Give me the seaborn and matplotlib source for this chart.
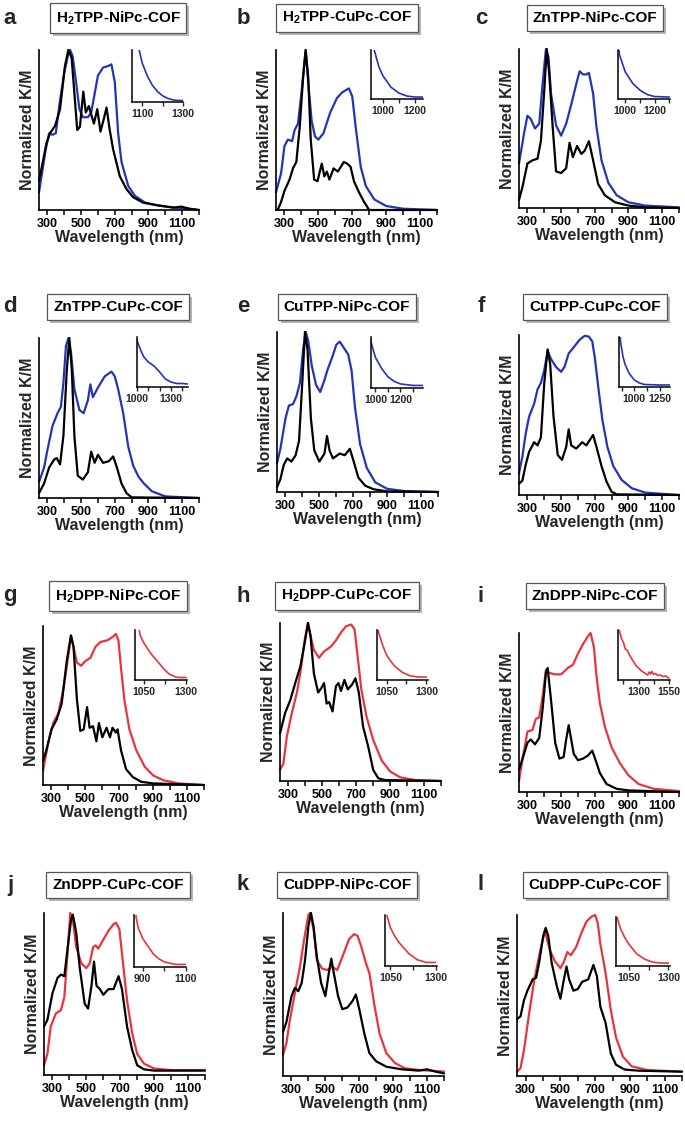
import matplotlib
matplotlib.use("Agg")
import matplotlib.pyplot as plt
from matplotlib.patches import Rectangle
import seaborn as sns

# ── Spectra: (wavelength nm, normalized K/M) ───────────────────────────────
A_BLACK = [(250, .18), (295, .42), (315, .48), (345, .525), (375, .63), (404, .9), (424, 1.0),
           (444, .95), (463, .69), (477, .5), (493, .52), (513, .74), (528, .61), (546, .65),
           (562, .59), (576, .54), (596, .63), (615, .49), (635, .57), (651, .64), (670, .5),
           (690, .38), (730, .21), (770, .13), (809, .08), (868, .046), (947, .031),
           (1046, .015), (1095, .021), (1145, .008), (1200, 0.0)]
A_COLOR = [(250, .11), (290, .38), (310, .48), (330, .47), (350, .48), (370, .65), (400, .86),
           (425, .98), (435, 1.0), (450, .96), (470, .8), (490, .63), (510, .58), (540, .58),
           (560, .61), (600, .84), (630, .89), (660, .9), (680, .91), (700, .8), (720, .48),
           (740, .3), (780, .15), (820, .088), (880, .046), (950, .029), (1050, .015), (1200, 0.0)]
A_INSET = [(1070, 1.3), (1085, 1.0), (1100, .75), (1125, .5), (1150, .32), (1175, .2),
           (1200, .12), (1225, .07), (1250, .04), (1275, .03), (1300, .03)]

B_BLACK = [(260, 0.0), (280, .05), (300, .12), (330, .19), (350, .26), (370, .3), (390, .52),
           (410, .83), (425, 1.0), (440, .83), (455, .44), (475, .19), (495, .18), (520, .29),
           (535, .21), (550, .24), (565, .19), (590, .26), (615, .24), (650, .3), (670, .29),
           (690, .27), (710, .18), (740, .11), (770, .05), (800, 0.0), (1200, 0.0)]
B_COLOR = [(250, .11), (280, .23), (300, .4), (320, .44), (345, .43), (360, .5), (380, .54),
           (400, .73), (425, 1.0), (440, .8), (460, .56), (480, .46), (500, .44), (530, .48),
           (570, .61), (610, .7), (640, .735), (680, .76), (700, .71), (720, .52), (750, .27),
           (780, .15), (830, .066), (900, .025), (1000, .008), (1200, 0.0)]
B_INSET = [(935, 1.2), (945, 1.0), (975, .65), (1000, .47), (1050, .24), (1100, .12),
           (1150, .06), (1200, .04), (1250, .04)]

C_BLACK = [(250, .05), (270, .13), (300, .28), (330, .3), (360, .31), (380, .42), (400, .74),
           (415, 1.0), (430, .84), (450, .51), (470, .23), (500, .22), (530, .25), (550, .41),
           (570, .32), (595, .39), (620, .34), (640, .36), (665, .42), (690, .3), (720, .15),
           (760, .08), (820, .036), (900, .015), (1000, .004), (1200, 0.0)]
C_COLOR = [(250, .28), (280, .47), (300, .58), (320, .56), (345, .5), (370, .53), (390, .78),
           (410, 1.0), (425, .95), (440, .72), (470, .52), (500, .455), (530, .53), (560, .65),
           (590, .78), (610, .86), (630, .84), (650, .84), (665, .85), (690, .72), (710, .51),
           (740, .3), (780, .16), (830, .08), (900, .036), (1000, .015), (1200, .004)]
C_INSET = [(950, 1.2), (960, .9), (1000, .55), (1050, .32), (1100, .18), (1150, .09),
           (1200, .05), (1300, .04)]

D_BLACK = [(250, .03), (280, .09), (310, .19), (340, .24), (355, .25), (375, .21), (395, .39),
           (415, .8), (430, 1.0), (445, .8), (460, .39), (480, .14), (510, .115), (540, .16),
           (560, .29), (580, .22), (600, .27), (630, .22), (665, .23), (690, .26), (710, .2),
           (740, .09), (770, .03), (800, .004), (1200, 0.0)]
D_COLOR = [(250, .1), (280, .19), (300, .3), (330, .45), (360, .53), (380, .57), (395, .72),
           (410, .95), (425, 1.0), (440, .91), (460, .68), (490, .55), (515, .53), (540, .61),
           (555, .71), (570, .63), (600, .69), (640, .76), (680, .79), (700, .76), (720, .68),
           (750, .53), (780, .32), (810, .2), (840, .135), (870, .094), (920, .042),
           (1000, .01), (1200, 0.0)]
D_INSET = [(1000, .93), (1030, .75), (1060, .6), (1100, .5), (1150, .42), (1200, .3),
           (1250, .16), (1300, .1), (1350, .07), (1400, .07), (1450, .06)]

E_BLACK = [(250, .03), (270, .08), (290, .17), (310, .21), (335, .19), (360, .23), (380, .32),
           (400, .7), (415, 1.0), (430, .89), (450, .46), (470, .26), (500, .19), (530, .24),
           (545, .35), (560, .26), (580, .21), (620, .24), (650, .23), (680, .27), (700, .2),
           (730, .09), (770, .04), (820, .017), (900, .004), (1200, 0.0)]
E_COLOR = [(250, .18), (270, .27), (300, .46), (320, .54), (345, .55), (365, .6), (385, .68),
           (405, .9), (420, 1.0), (435, .94), (455, .79), (480, .67), (505, .625), (530, .7),
           (550, .77), (575, .84), (600, .92), (620, .94), (645, .9), (670, .86), (690, .76),
           (710, .53), (740, .3), (780, .15), (830, .06), (900, .02), (1000, .006), (1200, 0.0)]
E_INSET = [(955, 1.2), (965, .9), (1000, .6), (1050, .38), (1100, .22), (1150, .13),
           (1200, .08), (1300, .05), (1400, .05)]

F_BLACK = [(250, .07), (270, .09), (290, .19), (310, .27), (340, .33), (360, .31), (380, .36),
           (400, .7), (420, .91), (435, .82), (455, .49), (480, .25), (505, .22), (530, .3),
           (545, .41), (560, .31), (590, .29), (625, .33), (650, .31), (690, .375), (710, .3),
           (740, .18), (770, .083), (800, .02), (830, .004), (1200, 0.0)]
F_COLOR = [(250, .135), (270, .24), (290, .385), (310, .49), (340, .57), (360, .66), (380, .7),
           (400, .78), (420, .9), (440, .85), (470, .8), (500, .77), (520, .8), (545, .885),
           (580, .93), (610, .97), (640, .995), (665, .99), (685, .96), (700, .86), (720, .68),
           (745, .47), (775, .3), (810, .18), (860, .094), (920, .042), (1000, .015), (1200, 0.0)]
F_INSET = [(855, 1.2), (865, .9), (890, .6), (910, .45), (950, .27), (1000, .14), (1050, .08),
           (1100, .05), (1250, .04), (1350, .04)]

G_BLACK = [(250, .15), (270, .22), (300, .35), (330, .41), (360, .51), (390, .78), (415, .94),
           (430, .87), (450, .54), (470, .34), (490, .35), (510, .49), (525, .36), (545, .37),
           (565, .275), (580, .39), (600, .3), (625, .36), (645, .3), (660, .36), (680, .33),
           (690, .35), (710, .22), (740, .1), (780, .05), (830, .02), (900, .01), (1200, 0.0)]
G_COLOR = [(250, .09), (280, .26), (310, .39), (340, .45), (370, .6), (395, .78), (415, .94),
           (430, .87), (450, .77), (475, .75), (500, .78), (530, .8), (560, .87), (590, .9),
           (630, .91), (660, .93), (680, .95), (695, .91), (710, .74), (730, .535), (760, .35),
           (800, .22), (850, .115), (900, .06), (960, .03), (1050, .01), (1200, 0.0)]
G_INSET = [(1015, 1.2), (1030, .9), (1050, .75), (1075, .62), (1100, .5), (1125, .4),
           (1150, .3), (1175, .2), (1200, .12), (1225, .08), (1250, .05), (1300, .05)]

H_BLACK = [(250, .3), (280, .43), (310, .51), (340, .62), (370, .725), (395, .87), (415, 1.0),
           (430, .92), (450, .68), (475, .56), (495, .59), (510, .62), (525, .49), (540, .5),
           (560, .44), (580, .6), (595, .62), (610, .57), (630, .64), (650, .58), (675, .61),
           (695, .65), (715, .56), (740, .345), (770, .22), (800, .07), (830, .017),
           (870, .006), (1200, 0.0)]
H_COLOR = [(250, .07), (270, .11), (290, .28), (320, .43), (350, .56), (375, .72), (395, .89),
           (415, 1.0), (430, .92), (450, .83), (480, .78), (510, .82), (550, .85), (580, .89),
           (610, .94), (640, .98), (670, .99), (690, .96), (710, .77), (730, .58), (760, .41),
           (800, .26), (850, .13), (900, .06), (960, .023), (1050, .006), (1200, 0.0)]
H_INSET = [(990, 1.2), (1000, .95), (1025, .7), (1050, .5), (1075, .38), (1100, .28),
           (1150, .15), (1200, .08), (1250, .06), (1300, .06)]

I_BLACK = [(250, .14), (280, .24), (300, .31), (320, .33), (345, .3), (370, .34), (390, .52),
           (410, .75), (420, .78), (440, .58), (465, .31), (490, .21), (515, .22), (530, .33),
           (545, .42), (560, .33), (575, .24), (600, .2), (630, .21), (660, .23), (685, .26),
           (705, .2), (730, .12), (770, .05), (830, .02), (900, .01), (1200, 0.0)]
I_COLOR = [(250, .07), (270, .2), (300, .38), (330, .39), (350, .46), (370, .47), (390, .6),
           (410, .77), (430, .75), (460, .74), (500, .74), (540, .78), (570, .8), (600, .87),
           (630, .93), (660, .98), (675, 1.0), (695, .91), (710, .73), (730, .56), (760, .41),
           (800, .28), (850, .18), (900, .105), (960, .05), (1050, .02), (1200, .006)]
I_INSET = [(1135, 1.1), (1145, .95), (1160, .82), (1175, .75), (1190, .62), (1205, .6),
           (1225, .5), (1250, .4), (1275, .3), (1300, .24), (1325, .18), (1350, .14),
           (1375, .1), (1390, .16), (1400, .12), (1410, .17), (1425, .11), (1440, .13),
           (1460, .09), (1480, .1), (1500, .07), (1525, .08), (1550, .04)]

J_BLACK = [(250, .3), (270, .34), (300, .505), (330, .6), (350, .62), (370, .61), (390, .79),
           (410, .96), (420, .99), (440, .88), (460, .67), (490, .44), (510, .41), (530, .55),
           (545, .7), (560, .55), (580, .53), (600, .495), (630, .53), (660, .53), (690, .61),
           (710, .53), (740, .3), (770, .155), (800, .06), (840, .035), (900, .027), (1200, .027)]
J_COLOR = [(250, .06), (270, .13), (290, .3), (320, .38), (350, .4), (370, .48), (390, .77),
           (405, 1.0), (420, .96), (440, .79), (470, .69), (500, .66), (520, .69), (540, .79),
           (555, .8), (570, .78), (600, .835), (630, .89), (660, .93), (675, .94), (695, .9),
           (710, .75), (740, .46), (770, .26), (800, .13), (840, .07), (900, .04), (1000, .03),
           (1200, .03)]
J_INSET = [(865, 1.2), (870, .95), (880, .75), (900, .55), (925, .4), (950, .25), (975, .16),
           (1000, .1), (1050, .05), (1100, .05)]

K_BLACK = [(250, .27), (270, .33), (300, .49), (320, .54), (340, .52), (360, .57), (380, .71),
           (400, .92), (415, 1.0), (430, .92), (450, .73), (475, .57), (500, .49), (520, .63),
           (535, .72), (550, .63), (575, .49), (600, .41), (630, .42), (660, .46), (680, .5),
           (700, .41), (730, .26), (760, .14), (800, .09), (860, .057), (950, .041),
           (1050, .033), (1100, .041), (1150, .027), (1200, .016)]
K_COLOR = [(250, .13), (270, .2), (290, .34), (320, .51), (350, .67), (375, .84), (400, .99),
           (410, 1.0), (430, .9), (450, .71), (480, .66), (510, .65), (540, .67), (570, .65),
           (600, .73), (640, .84), (670, .87), (690, .86), (710, .8), (740, .69), (760, .63),
           (790, .43), (820, .26), (860, .14), (910, .08), (970, .047), (1050, .037), (1200, .027)]
K_INSET = [(1025, 1.2), (1030, 1.0), (1050, .75), (1075, .58), (1100, .45), (1150, .25),
           (1200, .12), (1250, .07), (1300, .07)]

L_BLACK = [(250, .354), (270, .37), (290, .47), (310, .53), (340, .6), (360, .61), (380, .72),
           (400, .865), (415, .92), (430, .87), (450, .7), (480, .555), (500, .48), (520, .6),
           (535, .68), (550, .6), (575, .53), (600, .54), (625, .585), (660, .6), (690, .69),
           (710, .62), (730, .43), (760, .33), (790, .14), (820, .07), (870, .04), (950, .033),
           (1200, .027)]
L_COLOR = [(250, .027), (270, .048), (290, .16), (320, .39), (350, .6), (380, .76), (410, .9),
           (440, .78), (470, .71), (500, .67), (520, .71), (540, .77), (560, .75), (590, .8),
           (620, .886), (650, .96), (680, .99), (700, 1.0), (715, .95), (730, .82), (760, .64),
           (790, .41), (820, .24), (860, .12), (910, .06), (1000, .037), (1200, .027)]
L_INSET = [(975, 1.2), (980, .95), (1000, .75), (1025, .58), (1050, .45), (1100, .25),
           (1150, .14), (1200, .08), (1250, .06), (1300, .06)]

LETTERS = list("abcdefghijkl")
TITLES = ["H$_2$TPP-NiPc-COF", "H$_2$TPP-CuPc-COF", "ZnTPP-NiPc-COF",
          "ZnTPP-CuPc-COF", "CuTPP-NiPc-COF", "CuTPP-CuPc-COF",
          "H$_2$DPP-NiPc-COF", "H$_2$DPP-CuPc-COF", "ZnDPP-NiPc-COF",
          "ZnDPP-CuPc-COF", "CuDPP-NiPc-COF", "CuDPP-CuPc-COF"]
BLACK_SERIES = [A_BLACK, B_BLACK, C_BLACK, D_BLACK, E_BLACK, F_BLACK,
                G_BLACK, H_BLACK, I_BLACK, J_BLACK, K_BLACK, L_BLACK]
COLOR_SERIES = [A_COLOR, B_COLOR, C_COLOR, D_COLOR, E_COLOR, F_COLOR,
                G_COLOR, H_COLOR, I_COLOR, J_COLOR, K_COLOR, L_COLOR]
INSET_SERIES = [A_INSET, B_INSET, C_INSET, D_INSET, E_INSET, F_INSET,
                G_INSET, H_INSET, I_INSET, J_INSET, K_INSET, L_INSET]
INSET_XLIM = [(1050, 1300), (925, 1250), (950, 1305), (1000, 1450), (965, 1380), (850, 1350),
              (1000, 1305), (990, 1310), (1130, 1560), (860, 1102), (1020, 1308), (970, 1310)]
INSET_TICKS = [[1100, 1200, 1300], [1000, 1100, 1200], [1000, 1100, 1200, 1300],
               [1000, 1100, 1200, 1300, 1400], [1000, 1100, 1200, 1300],
               [875, 1000, 1125, 1250], [1050, 1175, 1300], [1050, 1175, 1300],
               [1175, 1300, 1425, 1550], [900, 1000, 1100], [1050, 1175, 1300],
               [1050, 1175, 1300]]
INSET_LABELED = [[1100, 1300], [1000, 1200], [1000, 1200], [1000, 1300], [1000, 1200],
                 [1000, 1250], [1050, 1300], [1050, 1300], [1300, 1550], [900, 1100],
                 [1050, 1300], [1050, 1300]]
MAIN_TICKS = [300, 400, 500, 600, 700, 800, 900, 1000, 1100, 1200]
MAIN_LABELED = [300, 500, 700, 900, 1100]

BLUE = "#2434b6"
RED = "#e8343c"

# ── Layout in figure pixels: (left, top, right, bottom) ──────────────────
W, H = 685, 1123
MAIN_BOX = [(39, 50, 199, 210), (276, 50, 437, 210), (519, 49, 679, 208),
            (39, 338, 199, 498), (277, 332, 438, 492), (519, 335, 679, 495),
            (43, 626, 204, 785), (280, 623, 441, 781), (519, 633, 679, 792),
            (44, 913, 205, 1075), (283, 913, 444, 1076), (517, 915, 682, 1076)]
INSET_BOX = [(132, 50, 183, 102), (371, 50, 423, 99), (618, 50, 670, 99),
             (137, 337, 188, 387), (371, 337, 423, 388), (619, 337, 670, 387),
             (135, 630, 187, 680), (377, 630, 428, 680), (618, 630, 670, 680),
             (134, 915, 186, 967), (385, 915, 437, 966), (616, 917, 670, 966)]
ROW_TITLE_Y = [18, 307, 596, 885]
COL_TITLE_X = [118, 347, 595]
COL_LETTER_X = [10, 243, 481]


def rect(box):
    l, t, r, b = box
    return [l / W, 1 - b / H, (r - l) / W, (b - t) / H]


def draw(ax, pairs, color, lw, clip=True):
    xs = [p[0] for p in pairs]
    ys = [p[1] for p in pairs]
    sns.lineplot(x=xs, y=ys, ax=ax, color=color, lw=lw, sort=False,
                 legend=False, clip_on=clip)


sns.set_style("ticks")
plt.rcParams["font.family"] = ["Liberation Sans", "DejaVu Sans"]
plt.rcParams["font.weight"] = "bold"
plt.rcParams["mathtext.fontset"] = "custom"
plt.rcParams["mathtext.rm"] = "Liberation Sans:bold"
plt.rcParams["mathtext.it"] = "Liberation Sans:bold"
plt.rcParams["mathtext.bf"] = "Liberation Sans:bold"
plt.rcParams["mathtext.default"] = "regular"

fig = plt.figure(figsize=(W / 100, H / 100), dpi=100)
title_texts = []

for i in range(12):
    row, col = divmod(i, 3)
    color = BLUE if row < 2 else RED

    ax = fig.add_axes(rect(MAIN_BOX[i]))
    draw(ax, COLOR_SERIES[i], color, 1.6, clip=False)
    draw(ax, BLACK_SERIES[i], "black", 1.6, clip=False)
    ax.set_xlim(250, 1200)
    ax.set_ylim(0, 1)
    ax.set_yticks([])
    ax.set_xticks(MAIN_TICKS)
    ax.set_xticklabels([str(t) if t in MAIN_LABELED else "" for t in MAIN_TICKS])
    ax.tick_params(axis="x", direction="out", length=3.5, width=1.1, pad=2,
                   labelsize=9, colors="black")
    for lab in ax.get_xticklabels():
        lab.set_fontweight("bold")
    for s in ("top", "right"):
        ax.spines[s].set_visible(False)
    for s in ("left", "bottom"):
        ax.spines[s].set_linewidth(1.2)
        ax.spines[s].set_color("black")
    ax.set_xlabel("Wavelength (nm)", fontsize=11.5, fontweight="bold", labelpad=0)
    ax.set_ylabel("Normalized K/M", fontsize=11.5, fontweight="bold", labelpad=3)

    # inset: long-wavelength tail of the coloured spectrum
    ins = fig.add_axes(rect(INSET_BOX[i]))
    draw(ins, INSET_SERIES[i], color, 1.2)
    ins.set_xlim(*INSET_XLIM[i])
    ins.set_ylim(0, 1)
    ins.set_yticks([])
    ins.set_xticks(INSET_TICKS[i])
    ins.set_xticklabels([str(t) if t in INSET_LABELED[i] else "" for t in INSET_TICKS[i]])
    ins.tick_params(axis="x", direction="out", length=3, width=1, pad=2, labelsize=7.5)
    for lab in ins.get_xticklabels():
        lab.set_fontweight("bold")
    for s in ("top", "right"):
        ins.spines[s].set_visible(False)
    for s in ("left", "bottom"):
        ins.spines[s].set_linewidth(1.1)
        ins.spines[s].set_color("black")
    ins.patch.set_alpha(0)

    # framed title; the grey drop shadow is added after a first draw
    tx = COL_TITLE_X[col] / W
    ty = 1 - ROW_TITLE_Y[row] / H
    t = fig.text(tx, ty, TITLES[i], ha="center", va="center", fontsize=11,
                 fontweight="bold", color="black", zorder=5,
                 bbox=dict(boxstyle="square,pad=0.38", fc="white", ec="#555555", lw=0.9))
    title_texts.append(t)
    fig.text(COL_LETTER_X[col] / W, ty, LETTERS[i], ha="center", va="center",
             fontsize=16, fontweight="bold")

# shadows behind the title frames
fig.canvas.draw()
renderer = fig.canvas.get_renderer()
inv = fig.transFigure.inverted()
for t in title_texts:
    bb = t.get_bbox_patch().get_window_extent(renderer)
    (x0, y0), (x1, y1) = inv.transform([(bb.x0 + 3, bb.y0 - 3), (bb.x1 + 3, bb.y1 - 3)])
    fig.add_artist(Rectangle((x0, y0), x1 - x0, y1 - y0, transform=fig.transFigure,
                             fc="#b4b4b4", ec="none", zorder=4))

fig.savefig("out.png", dpi=100)
plt.close(fig)
